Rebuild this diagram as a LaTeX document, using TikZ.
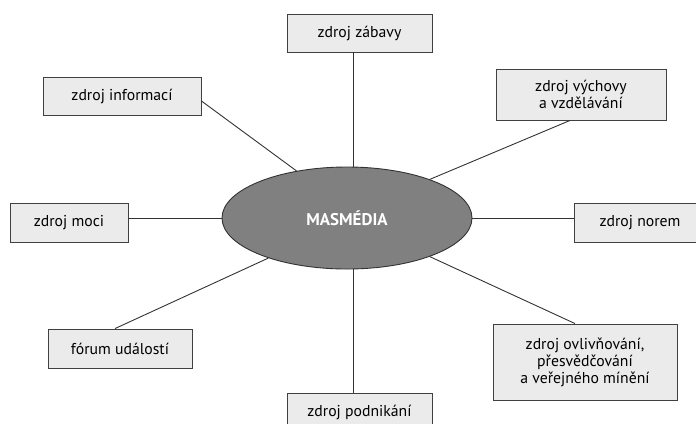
\documentclass[tikz,border=0pt]{standalone}
\usepackage{fontspec}
\setmainfont{PT Sans}
\usetikzlibrary{shapes.geometric}

\begin{document}
\begin{tikzpicture}[x=1bp, y=-1bp,
	box/.style={draw=black!75, fill=black!8, line width=0.9bp, align=center, inner sep=0pt, font=\fontsize{15.8}{17}\selectfont},
	hub/.style={ellipse, draw=black!80, fill=black!50, line width=0.9bp, inner sep=0pt, minimum width=250bp, minimum height=102bp, text=white, font=\fontsize{17}{19}\selectfont\bfseries},
	link/.style={draw=black!80, line width=0.9bp}]
	\useasboundingbox (0,0) rectangle (696,423);
	\node[hub] (ell) at (347,218) {MASMÉDIA};
	\node[box, minimum width=145bp, minimum height=38bp] (zab) at (359.5,33) {zdroj zábavy};
	\node[box, minimum width=158bp, minimum height=38bp] (inf) at (122,96) {zdroj informací};
	\node[box, minimum width=170bp, minimum height=51bp] (vych) at (581,94.5) {zdroj výchovy\\a vzdělávání};
	\node[box, minimum width=118bp, minimum height=39bp] (moci) at (69,222.5) {zdroj moci};
	\node[box, minimum width=132bp, minimum height=39bp] (norem) at (640,222.5) {zdroj norem};
	\node[box, minimum width=144bp, minimum height=39bp] (forum) at (120,348.5) {fórum událostí};
	\node[box, minimum width=184bp, minimum height=76bp] (ovl) at (585,362) {zdroj ovlivňování,\\přesvědčování\\a veřejného mínění};
	\node[box, minimum width=145bp, minimum height=38bp] (pod) at (359.5,412) {zdroj podnikání};
	% spokes
	\draw[link] (ell.83) -- (ell.83 |- zab.south);
	\draw[link] (ell.137) -- ([yshift=-5bp]inf.east);
	\draw[link] (ell.25) -- ([xshift=-11bp]vych.south);
	\draw[link] (ell.west) -- (ell.west -| moci.east);
	\draw[link] (ell.east) -- (ell.east -| norem.west);
	\draw[link] (ell.207) -- ([xshift=-5bp]forum.north);
	\draw[link] (ell.-25) -- ([xshift=-10bp]ovl.north);
	\draw[link] (ell.-83) -- (ell.-83 |- pod.north);
\end{tikzpicture}
\end{document}
